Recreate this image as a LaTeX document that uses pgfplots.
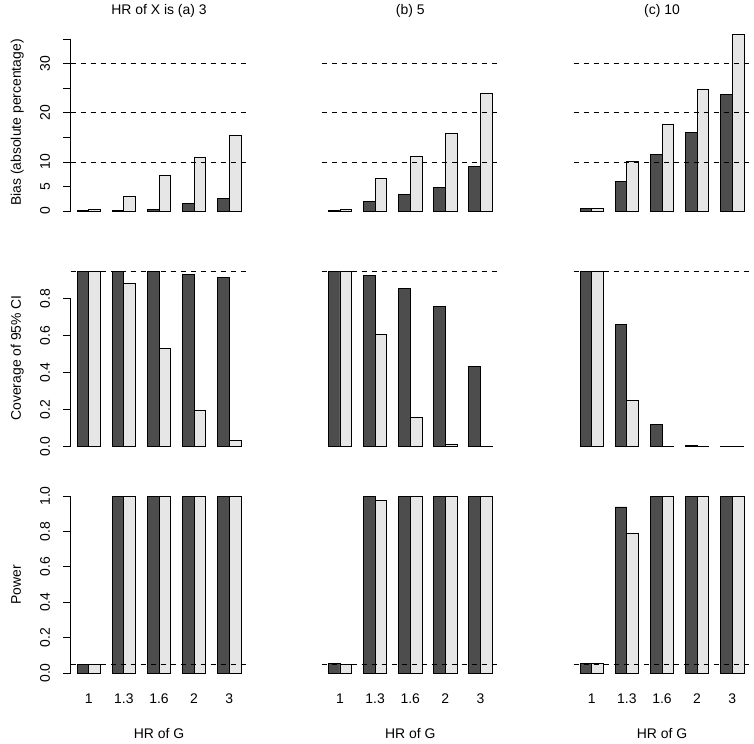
\documentclass[border=0pt]{standalone}
\usepackage{pgfplots}
\usepackage{pgfplotstable}
\usepackage{fontspec}
\setmainfont{Liberation Sans}
\pgfplotsset{compat=1.18}

\definecolor{dk}{HTML}{4D4D4D}
\definecolor{lt}{HTML}{E6E6E6}
\newcommand{\tfont}{\fontsize{14}{16}\selectfont}

% groups: HR of G = 1, 1.3, 1.6, 2, 3
% columns a/b/c: HR of X = 3, 5, 10 ; d = dark bar, l = light bar
\pgfplotstableread{
xd   xl   ad    al    bd    bl    cd    cl
1.5  2.5  0.15  0.35  0.20  0.40  0.55  0.60
4.5  5.5  0.10  3.00  2.04  6.58  6.04  10.10
7.5  8.5  0.27  7.26  3.39  11.13 11.60 17.70
10.5 11.5 1.49  10.86 4.89  15.75 15.95 24.70
13.5 14.5 2.58  15.48 9.10  23.90 23.76 35.98
}\bias

\pgfplotstableread{
xd   xl   ad    al    bd    bl    cd    cl
1.5  2.5  0.950 0.950 0.950 0.950 0.950 0.948
4.5  5.5  0.950 0.885 0.927 0.605 0.659 0.250
7.5  8.5  0.947 0.530 0.858 0.154 0.119 0.001
10.5 11.5 0.932 0.195 0.760 0.013 0.005 0.001
13.5 14.5 0.914 0.034 0.433 0.001 0.001 0.000
}\cover

\pgfplotstableread{
xd   xl   ad    al    bd    bl    cd    cl
1.5  2.5  0.050 0.049 0.053 0.047 0.053 0.053
4.5  5.5  1.000 1.000 1.000 0.976 0.938 0.789
7.5  8.5  1.000 1.000 1.000 1.000 1.000 1.000
10.5 11.5 1.000 1.000 1.000 1.000 1.000 1.000
13.5 14.5 1.000 1.000 1.000 1.000 1.000 1.000
}\power

\tikzset{
  refline/.style={black, line width=0.8bp, dash pattern=on 5.5bp off 4.5bp},
  axline/.style={black, line width=0.8bp},
}

\pgfplotsset{
  panel/.style={
    scale only axis, width=177bp, height=191bp,
    xmin=0.44, xmax=15.56,
    axis line style={draw=none},
    xtick=\empty, ytick=\empty,
    tick align=outside,
    major tick length=7bp,
    every tick/.style={black, line width=0.8bp},
    xtick style={draw=none},
    ytick pos=left, xtick pos=bottom,
    tick label style={font=\tfont},
    yticklabel style={rotate=90, anchor=base, inner sep=0pt, yshift=13.5bp},
    label style={font=\tfont},
    ylabel style={at={(axis description cs:-0.28,0.5)}, rotate=0, anchor=base},
    title style={font=\tfont, anchor=base, at={(axis description cs:0.5,1)}, yshift=7bp},
    clip=false,
  },
  dkbar/.style={ybar, bar shift=0pt, bar width=1, fill=dk, draw=black, line width=0.8bp},
  ltbar/.style={ybar, bar shift=0pt, bar width=1, fill=lt, draw=black, line width=0.8bp},
  biasrow/.style={panel, ymin=-1.44, ymax=37.46},
  coverrow/.style={panel, ymin=-0.0384, ymax=0.9968},
  powerrow/.style={panel, ymin=-0.04, ymax=1.039,
    xtick={2,5,8,11,14}, xticklabels={1,1.3,1.6,2,3},
    xticklabel style={anchor=base, yshift=-16bp},
    xlabel={HR of G},
    xlabel style={at={(axis description cs:0.5,0)}, anchor=base, yshift=-58bp}},
}

\begin{document}
\begin{tikzpicture}
\useasboundingbox (0bp,0bp) rectangle (754bp,744bp);

% ---------- row 1: bias ----------
\begin{axis}[biasrow, at={(70.5bp,525.9bp)}, anchor=south west,
  title={HR of X is (a) 3},
  ytick={0,5,10,15,20,25,30,35}, yticklabels={0,5,10,,20,,30,},
  ylabel={Bias (absolute percentage)}]
  \addplot[dkbar] table[x=xd, y=ad] {\bias};
  \addplot[ltbar] table[x=xl, y=al] {\bias};
  \draw[axline] (axis cs:0.44,0) -- (axis cs:0.44,35);
  \draw[refline] (axis cs:0.44,10) -- (axis cs:15.56,10);
  \draw[refline] (axis cs:0.44,20) -- (axis cs:15.56,20);
  \draw[refline] (axis cs:0.44,30) -- (axis cs:15.56,30);
\end{axis}
\begin{axis}[biasrow, at={(321.7bp,525.9bp)}, anchor=south west, title={(b) 5}]
  \addplot[dkbar] table[x=xd, y=bd] {\bias};
  \addplot[ltbar] table[x=xl, y=bl] {\bias};
  \draw[refline] (axis cs:0.44,10) -- (axis cs:15.56,10);
  \draw[refline] (axis cs:0.44,20) -- (axis cs:15.56,20);
  \draw[refline] (axis cs:0.44,30) -- (axis cs:15.56,30);
\end{axis}
\begin{axis}[biasrow, at={(573.5bp,525.9bp)}, anchor=south west, title={(c) 10}]
  \addplot[dkbar] table[x=xd, y=cd] {\bias};
  \addplot[ltbar] table[x=xl, y=cl] {\bias};
  \draw[refline] (axis cs:0.44,10) -- (axis cs:15.56,10);
  \draw[refline] (axis cs:0.44,20) -- (axis cs:15.56,20);
  \draw[refline] (axis cs:0.44,30) -- (axis cs:15.56,30);
\end{axis}

% ---------- row 2: coverage ----------
\begin{axis}[coverrow, at={(70.5bp,290.6bp)}, anchor=south west,
  ytick={0,0.2,0.4,0.6,0.8}, yticklabels={0.0,0.2,0.4,0.6,0.8},
  ylabel={Coverage of 95\% CI}]
  \addplot[dkbar] table[x=xd, y=ad] {\cover};
  \addplot[ltbar] table[x=xl, y=al] {\cover};
  \draw[axline] (axis cs:0.44,0) -- (axis cs:0.44,0.8);
  \draw[refline] (axis cs:0.44,0.95) -- (axis cs:15.56,0.95);
\end{axis}
\begin{axis}[coverrow, at={(321.7bp,290.6bp)}, anchor=south west]
  \addplot[dkbar] table[x=xd, y=bd] {\cover};
  \addplot[ltbar] table[x=xl, y=bl] {\cover};
  \draw[refline] (axis cs:0.44,0.95) -- (axis cs:15.56,0.95);
\end{axis}
\begin{axis}[coverrow, at={(573.5bp,290.6bp)}, anchor=south west]
  \addplot[dkbar] table[x=xd, y=cd] {\cover};
  \addplot[ltbar] table[x=xl, y=cl] {\cover};
  \draw[refline] (axis cs:0.44,0.95) -- (axis cs:15.56,0.95);
\end{axis}

% ---------- row 3: power ----------
\begin{axis}[powerrow, at={(70.5bp,63.9bp)}, anchor=south west,
  ytick={0,0.2,0.4,0.6,0.8,1}, yticklabels={0.0,0.2,0.4,0.6,0.8,1.0},
  ylabel={Power}]
  \addplot[dkbar] table[x=xd, y=ad] {\power};
  \addplot[ltbar] table[x=xl, y=al] {\power};
  \draw[axline] (axis cs:0.44,0) -- (axis cs:0.44,1);
  \draw[refline] (axis cs:0.44,0.05) -- (axis cs:15.56,0.05);
\end{axis}
\begin{axis}[powerrow, at={(321.7bp,63.9bp)}, anchor=south west]
  \addplot[dkbar] table[x=xd, y=bd] {\power};
  \addplot[ltbar] table[x=xl, y=bl] {\power};
  \draw[refline] (axis cs:0.44,0.05) -- (axis cs:15.56,0.05);
\end{axis}
\begin{axis}[powerrow, at={(573.5bp,63.9bp)}, anchor=south west]
  \addplot[dkbar] table[x=xd, y=cd] {\power};
  \addplot[ltbar] table[x=xl, y=cl] {\power};
  \draw[refline] (axis cs:0.44,0.05) -- (axis cs:15.56,0.05);
\end{axis}
\end{tikzpicture}
\end{document}
